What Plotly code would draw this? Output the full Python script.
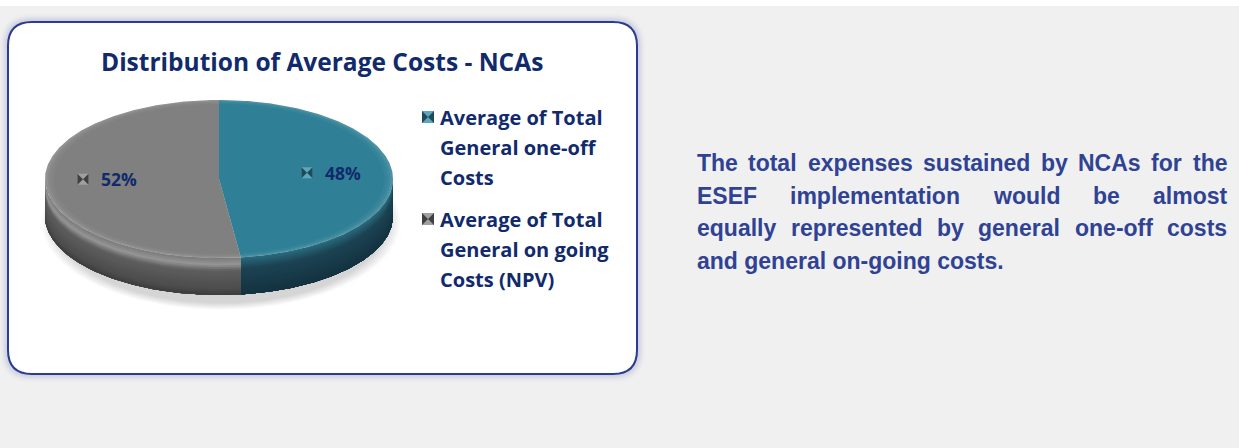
import numpy as np
import plotly.graph_objects as go

# ---------------- data ----------------
slice_names = ["Average of Total General one-off Costs",
               "Average of Total General on going Costs (NPV)"]
slice_values = [48, 52]
legend_lines = [["Average of Total", "General one-off", "Costs"],
                ["Average of Total", "General on going", "Costs (NPV)"]]
chart_title = "Distribution of Average Costs - NCAs"
body_lines = ["The total expenses sustained by NCAs for the",
              "ESEF implementation would be almost",
              "equally represented by general one-off costs",
              "and general on-going costs."]

# ---------------- styles ----------------
W, H = 1239, 448
BG = "#f0f0f0"
NAVY = "#102a6c"
BODY_BLUE = "#2f4294"
TOP_COL = ["#2f8096", "#808080"]
SIDE_STOPS = [
    [(0.0, "#2a6a7e"), (0.15, "#22586a"), (0.3, "#1c4353"), (1.0, "#143240")],
    [(0.0, "#7a7a7a"), (0.18, "#959595"), (0.35, "#5e5e5e"), (0.85, "#4c4c4c"), (1.0, "#3c3c3c")],
]
KEY_LIGHT = ["#5ea6ba", "#a0a0a0"]
KEY_DARK = ["#1e4a5a", "#404040"]
TITLE_FONT = "Open Sans"

CX, CY, RA, RB, DEPTH = 219.0, 179.0, 174.0, 79.0, 37.0


def hex2rgb(h):
    h = h.lstrip("#")
    return np.array([int(h[i:i + 2], 16) for i in (0, 2, 4)], dtype=float)


def interp_color(stops, t):
    for (t0, c0), (t1, c1) in zip(stops[:-1], stops[1:]):
        if t0 <= t <= t1:
            f = 0 if t1 == t0 else (t - t0) / (t1 - t0)
            c = hex2rgb(c0) * (1 - f) + hex2rgb(c1) * f
            return "rgb(%d,%d,%d)" % tuple(c.round())
    return stops[-1][1]


def ept(th, d=0.0, s=1.0):
    return CX + s * RA * np.sin(th), CY - s * RB * np.cos(th) + d


def rrect(x0, y0, x1, y1, r):
    return (f"M{x0 + r},{y0} L{x1 - r},{y0} Q{x1},{y0} {x1},{y0 + r} "
            f"L{x1},{y1 - r} Q{x1},{y1} {x1 - r},{y1} L{x0 + r},{y1} "
            f"Q{x0},{y1} {x0},{y1 - r} L{x0},{y0 + r} Q{x0},{y0} {x0 + r},{y0} Z")


fig = go.Figure()

# ---------------- background shapes ----------------
shapes = [dict(type="rect", x0=0, x1=W, y0=0, y1=6, fillcolor="white",
               line=dict(width=0), layer="below")]
BX0, BY0, BX1, BY1, BR = 8, 22, 637, 374, 24
for i in range(9, 0, -1):
    shapes.append(dict(type="path", path=rrect(BX0 - i, BY0 - i, BX1 + i, BY1 + i, BR + i),
                       fillcolor="rgba(70,90,180,%.3f)" % (0.05 * (10 - i) / 9),
                       line=dict(width=0), layer="below"))
shapes.append(dict(type="path", path=rrect(BX0, BY0, BX1, BY1, BR), fillcolor="white",
                   line=dict(color="#2b3b8e", width=2), layer="below"))

# ---------------- 3D pie built from the values ----------------
vals = np.array(slice_values, dtype=float)
fr = vals / vals.sum()
edges = np.concatenate([[0.0], np.cumsum(fr)]) * 2 * np.pi

# soft shadow
for k in range(7):
    s = 1.03 - 0.012 * k
    th = np.linspace(0, 2 * np.pi, 200)
    xs = CX + 2 + s * RA * np.sin(th)
    ys = CY + DEPTH + 6 - s * (RB + 6) * np.cos(th)
    fig.add_trace(go.Scatter(x=xs, y=ys, mode="lines", fill="toself",
                             fillcolor="rgba(0,0,0,0.022)", line=dict(width=0),
                             hoverinfo="skip", showlegend=False))

# side walls (front half only); each band drawn from its top to the bottom (stacked)
NB = 20
for i in range(len(vals)):
    s0, s1 = max(edges[i], np.pi / 2), min(edges[i + 1], 3 * np.pi / 2)
    if s1 <= s0:
        continue
    th = np.linspace(s0, s1, 160)
    for j in range(NB):
        d0 = DEPTH * j / NB
        xa, ya = ept(th, d0)
        xb, yb = ept(th[::-1], DEPTH)
        fig.add_trace(go.Scatter(
            x=np.concatenate([xa, xb]), y=np.concatenate([ya, yb]),
            mode="lines", fill="toself",
            fillcolor=interp_color(SIDE_STOPS[i], (j + 0.5) / NB),
            line=dict(width=0), hoverinfo="skip", showlegend=False))

# top faces
for i in range(len(vals)):
    th = np.linspace(edges[i], edges[i + 1], 200)
    xs, ys = ept(th)
    fig.add_trace(go.Scatter(
        x=np.concatenate([[CX], xs, [CX]]), y=np.concatenate([[CY], ys, [CY]]),
        mode="lines", fill="toself", fillcolor=TOP_COL[i],
        line=dict(width=0), hoverinfo="skip", showlegend=False, name=slice_names[i]))

# subtle bevel on the top-face rim
for i in range(len(vals)):
    th = np.linspace(edges[i], edges[i + 1], 200)
    for s_in, alpha in [(0.985, 0.08), (0.97, 0.05), (0.95, 0.03)]:
        xo, yo = ept(th)
        xi, yi = ept(th[::-1], 0, s_in)
        fig.add_trace(go.Scatter(
            x=np.concatenate([xo, xi]), y=np.concatenate([yo, yi]),
            mode="lines", fill="toself", fillcolor="rgba(255,255,255,%.2f)" % alpha,
            line=dict(width=0), hoverinfo="skip", showlegend=False))

# ---------------- data labels ----------------
annotations = []
KL = 0.645
for i in range(len(vals)):
    mid = (edges[i] + edges[i + 1]) / 2
    gx = CX + KL * RA * np.sin(mid)
    gy = CY - 3 - KL * RB * np.cos(mid)
    fig.add_trace(go.Scatter(x=[gx - 24], y=[gy], mode="markers",
                             marker=dict(symbol="square", size=11, color=KEY_LIGHT[i],
                                         line=dict(width=0)),
                             hoverinfo="skip", showlegend=False))
    fig.add_trace(go.Scatter(x=[gx - 24], y=[gy], mode="markers",
                             marker=dict(symbol="bowtie", size=11, color=KEY_DARK[i],
                                         line=dict(width=0)),
                             hoverinfo="skip", showlegend=False))
    annotations.append(dict(x=gx - 8, y=gy, xref="x", yref="y", showarrow=False,
                            xanchor="left", yanchor="middle",
                            text="<b>%d%%</b>" % round(fr[i] * 100),
                            font=dict(family=TITLE_FONT, size=17.5, color=NAVY)))

# ---------------- legend ----------------
LX, LY0, LDY, LGAP = 428, 117, 30, 102
for i, lines in enumerate(legend_lines):
    y0 = LY0 + i * LGAP
    fig.add_trace(go.Scatter(x=[LX], y=[y0], mode="markers",
                             marker=dict(symbol="square", size=12, color=KEY_LIGHT[i],
                                         line=dict(width=0)),
                             hoverinfo="skip", showlegend=False))
    fig.add_trace(go.Scatter(x=[LX], y=[y0], mode="markers",
                             marker=dict(symbol="bowtie", size=12, color=KEY_DARK[i],
                                         line=dict(width=0)),
                             hoverinfo="skip", showlegend=False))
    for j, t in enumerate(lines):
        annotations.append(dict(x=438, y=y0 + j * LDY, xref="x", yref="y", showarrow=False,
                                xanchor="left", yanchor="middle", text="<b>%s</b>" % t,
                                font=dict(family=TITLE_FONT, size=20, color=NAVY)))

# title
annotations.append(dict(x=322, y=61, xref="x", yref="y", showarrow=False,
                        xanchor="center", yanchor="middle", text="<b>%s</b>" % chart_title,
                        font=dict(family=TITLE_FONT, size=24.5, color=NAVY)))

# ---------------- justified body text ----------------
CW = {' ': 278, '.': 278, '-': 333, 'A': 722, 'C': 722, 'E': 667, 'F': 611, 'N': 722,
      'S': 667, 'T': 611, 'a': 556, 'b': 611, 'c': 556, 'd': 611, 'e': 556, 'f': 333,
      'g': 611, 'h': 611, 'i': 278, 'l': 278, 'm': 889, 'n': 611, 'o': 611, 'p': 611,
      'q': 611, 'r': 389, 's': 556, 't': 333, 'u': 611, 'w': 778, 'x': 556, 'y': 556,
      'k': 556, 'v': 556}
FS = 23
TX0, TX1 = 696, 1226
TY0, TDY = 163, 32.7


def wwidth(w):
    return sum(CW.get(c, 600) for c in w) * FS / 1000.0


for li, line in enumerate(body_lines):
    y = TY0 + li * TDY
    words = line.split(" ")
    if li == len(body_lines) - 1:
        annotations.append(dict(x=TX0 - 1, y=y, xref="x", yref="y", showarrow=False,
                                xanchor="left", yanchor="middle", text="<b>%s</b>" % line,
                                font=dict(family="Liberation Sans", size=FS, color=BODY_BLUE)))
        continue
    widths = [wwidth(w) for w in words]
    gap = (TX1 - TX0 - sum(widths)) / (len(words) - 1)
    x = TX0
    for w, ww in zip(words, widths):
        annotations.append(dict(x=x - 1, y=y, xref="x", yref="y", showarrow=False,
                                xanchor="left", yanchor="middle", text="<b>%s</b>" % w,
                                font=dict(family="Liberation Sans", size=FS, color=BODY_BLUE)))
        x += ww + gap

fig.update_layout(
    width=W, height=H, margin=dict(l=0, r=0, t=0, b=0),
    paper_bgcolor=BG, plot_bgcolor="rgba(0,0,0,0)",
    xaxis=dict(range=[0, W], visible=False, fixedrange=True),
    yaxis=dict(range=[H, 0], visible=False, fixedrange=True),
    shapes=shapes, annotations=annotations, showlegend=False,
)

fig.write_html("out.html", config={"displayModeBar": False},
               post_script="document.body.style.margin='0';document.body.style.overflow='hidden';")
